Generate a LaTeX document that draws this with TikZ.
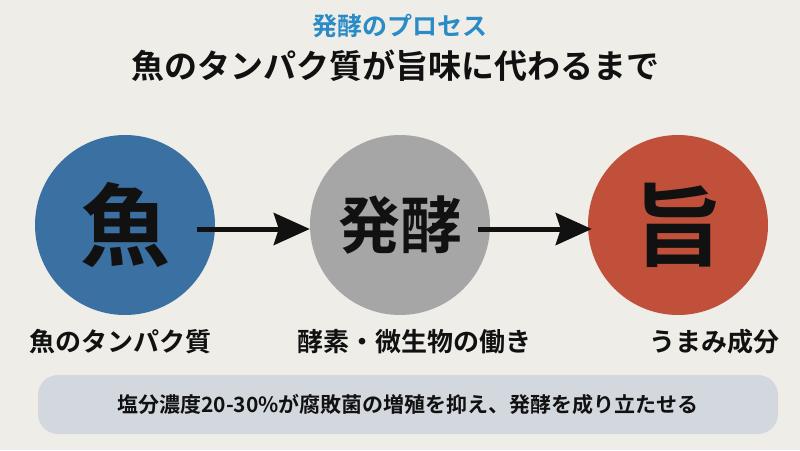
\documentclass[tikz,border=0pt]{standalone}
\usepackage{fontspec}
\setmainfont{Noto Sans CJK JP}[BoldFont={* Bold}]
\usetikzlibrary{arrows.meta}
\definecolor{bg}{HTML}{EEEDE8}
\definecolor{fishblue}{HTML}{3B70A2}
\definecolor{fermgray}{HTML}{A6A6A6}
\definecolor{umared}{HTML}{C1503A}
\definecolor{titleblue}{HTML}{2A8BC6}
\definecolor{notegray}{HTML}{D3D8DE}
\definecolor{ink}{HTML}{111111}
\newcommand{\fsz}[1]{\fontsize{#1}{#1}\selectfont\bfseries}
\tikzset{
    stage/.style = {circle, minimum size=180pt, inner sep=0pt, text=ink},
    caption/.style = {text=ink, inner sep=0pt},
    flow/.style = {line width=5pt, ink, -{Stealth[length=36pt, width=32pt, inset=5pt]}}
}
\begin{document}
\begin{tikzpicture}[x=1pt, y=-1pt]
%coordinate
    \coordinate (c1) at (125,225); \coordinate (c2) at (400,225);
    \coordinate (c3) at (678,225);
    \coordinate (l1) at (120,342); \coordinate (l2) at (414,342);
    \coordinate (l3) at (714,342);
%background
    \fill[bg] (0,0) rectangle (800,450);
    \useasboundingbox (0,0) rectangle (800,450);
%title
    \node[caption, text=titleblue] (title) at (400,26) {\fsz{25}発酵のプロセス};
    \node[caption] (subtitle) at (395,66) {\fsz{33}魚のタンパク質が旨味に代わるまで};
%circles
    \node[stage, fill=fishblue] (fish) at (c1) {\fsz{90}魚};
    \node[stage, fill=fermgray] (ferm) at (c2) {\fsz{62}発酵};
    \node[stage, fill=umared] (umami) at (c3) {\fsz{90}旨};
%arrows
    \draw[flow] ([shift={(-18,4)}]fish.east) -- ([shift={(0,4)}]ferm.west);
    \draw[flow] ([shift={(-12,4)}]ferm.east) -- ([shift={(4,4)}]umami.west);
%labels
    \node[caption] (fishlabel) at (l1) {\fsz{26}魚のタンパク質};
    \node[caption] (fermlabel) at (l2) {\fsz{26}酵素・微生物の働き};
    \node[caption] (umamilabel) at (l3) {\fsz{26}うまみ成分};
%note
    \node[fill=notegray, rounded corners=20pt, minimum width=740pt, minimum height=59pt, text=ink] (note) at (408,404.5) {\fsz{21}塩分濃度20-30\%が腐敗菌の増殖を抑え、発酵を成り立たせる};
\end{tikzpicture}
\end{document}
